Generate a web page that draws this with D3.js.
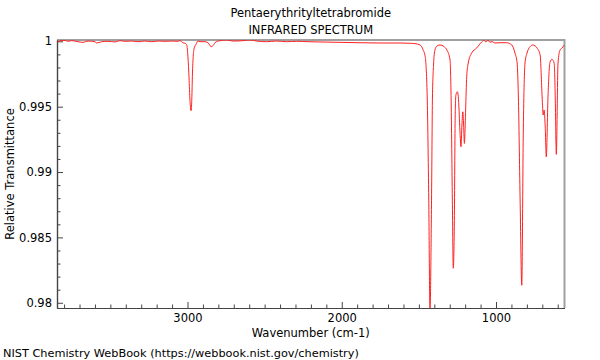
<!DOCTYPE html>
<html>
<head>
<meta charset="utf-8">
<script src="https://cdn.jsdelivr.net/npm/d3@7"></script>
<style>
	body { margin: 0; background: #fff; }
	text { font-family: "DejaVu Sans", sans-serif; }
</style>
</head>
<body>
<svg id="spectrum"></svg>
<script>
const svgWidth = 600;
const svgHeight = 360;
const plotLeft = 57, plotRight = 564.5, plotTop = 40, plotBottom = 308;

const compound = "Pentaerythrityltetrabromide";
const xTicks = [3000, 2000, 1000];
const yTicks = [1, 0.995, 0.99, 0.985, 0.98];

// wavenumber (cm-1)
const wavenumber = [
	3846, 3833, 3794, 3775, 3751, 3710, 3677, 3645, 3600, 3589,
	3556, 3515, 3470, 3438, 3405, 3362, 3321, 3276, 3232, 3191,
	3146, 3102, 3062, 3049, 3029, 3016, 3005, 2997, 2990, 2984,
	2977, 2972, 2968, 2958, 2945, 2932, 2919, 2887, 2860, 2854,
	2843, 2830, 2822, 2789, 2746, 2705, 2640, 2595, 2551, 2487,
	2422, 2357, 2292, 2219, 2141, 2011, 1882, 1752, 1622, 1557,
	1525, 1492, 1472, 1459, 1446, 1436, 1428, 1418, 1412, 1405,
	1396, 1383, 1363, 1337, 1318, 1298, 1292, 1283, 1277, 1270,
	1265, 1260, 1250, 1243, 1234, 1227, 1221, 1215, 1210, 1205,
	1197, 1190, 1180, 1158, 1125, 1093, 1078, 1065, 1052, 1039,
	1026, 1007, 974, 931, 898, 877, 863, 855, 844, 833,
	823, 812, 799, 779, 760, 734, 714, 701, 694, 688,
	681, 674, 663, 650, 637, 623, 616, 609, 598, 585,
	572, 557
];
// relative transmittance
const transmittance = [
	0.99989, 1.00002, 1.00008, 1.00000, 1.00005, 0.99997, 0.99992, 1.00002, 0.99997, 0.99987,
	0.99997, 1.00000, 0.99995, 1.00005, 1.00000, 1.00002, 0.99997, 1.00002, 0.99997, 1.00002,
	1.00000, 1.00002, 1.00000, 1.00005, 0.99989, 0.99985, 0.99972, 0.99880, 0.99720, 0.99550,
	0.99469, 0.99560, 0.99750, 0.99940, 0.99977, 1.00002, 0.99997, 0.99997, 0.99980, 0.99966,
	0.99959, 0.99975, 0.99989, 1.00005, 1.00010, 1.00002, 1.00005, 1.00010, 1.00002, 0.99997,
	1.00002, 0.99997, 1.00000, 0.99997, 0.99995, 0.99992, 0.99989, 0.99987, 0.99987, 0.99985,
	0.99982, 0.99972, 0.99933, 0.99882, 0.99574, 0.98785, 0.97940, 0.98785, 0.99574, 0.99819,
	0.99933, 0.99964, 0.99972, 0.99959, 0.99933, 0.99857, 0.99627, 0.98785, 0.98264, 0.98630,
	0.99397, 0.99589, 0.99614, 0.99553, 0.99321, 0.99193, 0.99359, 0.99461, 0.99359, 0.99219,
	0.99474, 0.99729, 0.99834, 0.99910, 0.99949, 0.99995, 1.00008, 0.99995, 1.00010, 0.99992,
	0.99998, 0.99987, 0.99989, 0.99989, 0.99972, 0.99910, 0.99834, 0.99574, 0.98808, 0.98134,
	0.99321, 0.99834, 0.99910, 0.99959, 0.99972, 0.99949, 0.99895, 0.99574, 0.99436, 0.99474,
	0.99344, 0.99116, 0.99574, 0.99840, 0.99862, 0.99834, 0.99574, 0.99135, 0.99834, 0.99933,
	0.99949, 0.99972
];

const spectrum = d3.select("#spectrum")
				.attr("width", svgWidth)
				.attr("height", svgHeight);

let xScale = d3.scaleLinear()
				.domain([3846, 556])
				.range([plotLeft, plotRight]);
let yScale = d3.scaleLinear()
				.domain([0.9796, 1.0001])
				.range([plotBottom, plotTop]);

spectrum.append("clipPath")
	.attr("id", "plotClip")
	.append("rect")
	.attr("x", plotLeft)
	.attr("y", plotTop)
	.attr("width", plotRight - plotLeft)
	.attr("height", plotBottom - plotTop);

// frame: top and right in light grey
spectrum.append("path")
	.attr("d", `M${plotLeft},${plotTop}H${plotRight}V${plotBottom}`)
	.attr("fill", "none")
	.attr("stroke", "#a0a0a0")
	.attr("stroke-width", 2);

// minor ticks
let xMinor = d3.range(600, 3900, 100).filter(d => d % 1000 != 0);
let yMinor = d3.range(980, 1001, 1).map(d => d / 1000).filter(d => Math.round(d * 1000) % 5 != 0);

let xAxis = d3.axisBottom(xScale)
				.tickValues(xTicks)
				.tickSize(-6)
				.tickSizeOuter(0)
				.tickPadding(6)
				.tickFormat(d3.format("d"));
let xAxisMinor = d3.axisBottom(xScale)
				.tickValues(xMinor)
				.tickSize(-3.5)
				.tickSizeOuter(0)
				.tickFormat("");
let yAxis = d3.axisLeft(yScale)
				.tickValues(yTicks)
				.tickSize(-6)
				.tickSizeOuter(0)
				.tickPadding(5)
				.tickFormat(d => String(+d.toFixed(3)));
let yAxisMinor = d3.axisLeft(yScale)
				.tickValues(yMinor)
				.tickSize(-3.5)
				.tickSizeOuter(0)
				.tickFormat("");

spectrum.append("g")
	.attr("transform", `translate(0, ${plotBottom})`)
	.call(xAxisMinor);
spectrum.append("g")
	.attr("transform", `translate(${plotLeft}, 0)`)
	.call(yAxisMinor);
spectrum.append("g")
	.attr("transform", `translate(0, ${plotBottom})`)
	.call(xAxis);
spectrum.append("g")
	.attr("transform", `translate(${plotLeft}, 0)`)
	.call(yAxis);

spectrum.selectAll(".domain").attr("stroke", "#444").attr("stroke-width", 1.2);
spectrum.selectAll(".tick line").attr("stroke", "#444");
spectrum.selectAll(".tick text")
	.attr("font-size", "11.5px")
	.attr("font-family", "DejaVu Sans, sans-serif")
	.attr("fill", "#000");

// the spectrum line
let points = wavenumber.map((w, i) => ({w: w, t: transmittance[i]}));
let line = d3.line()
				.x(d => xScale(d.w))
				.y(d => yScale(d.t))
				.curve(d3.curveMonotoneX);

spectrum.append("path")
	.datum(points)
	.attr("clip-path", "url(#plotClip)")
	.attr("d", line)
	.attr("fill", "none")
	.attr("stroke", "#ff2020")
	.attr("stroke-width", 1);

// titles
let midX = (plotLeft + plotRight) / 2;
spectrum.append("text")
	.text(compound)
	.attr("x", midX)
	.attr("y", 17)
	.attr("font-size", "11.5px")
	.attr("text-anchor", "middle");
spectrum.append("text")
	.text("INFRARED SPECTRUM")
	.attr("x", midX)
	.attr("y", 34)
	.attr("font-size", "11.5px")
	.attr("text-anchor", "middle");

// axis labels
spectrum.append("text")
	.text("Wavenumber (cm-1)")
	.attr("x", midX)
	.attr("y", 337)
	.attr("font-size", "11.5px")
	.attr("text-anchor", "middle");
spectrum.append("text")
	.text("Relative Transmittance")
	.attr("transform", "rotate(-90)")
	.attr("x", -174)
	.attr("y", 14)
	.attr("font-size", "11.5px")
	.attr("text-anchor", "middle");

spectrum.append("text")
	.text("NIST Chemistry WebBook (https://webbook.nist.gov/chemistry)")
	.attr("x", 3)
	.attr("y", 357)
	.attr("font-size", "11.3px");
</script>
</body>
</html>
